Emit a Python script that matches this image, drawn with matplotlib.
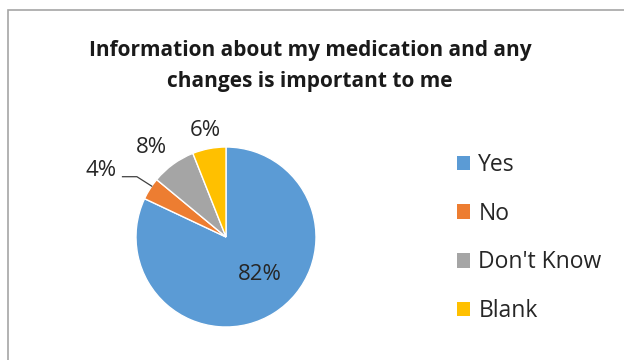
import numpy as np
import matplotlib
matplotlib.use("Agg")
import matplotlib.pyplot as plt
from matplotlib.patches import Rectangle, Patch

plt.rcParams["font.family"] = ["Open Sans", "DejaVu Sans"]

LABELS = ["Yes", "No", "Don't Know", "Blank"]
SHARES = [82, 4, 8, 6]
COLORS = ["#5B9BD5", "#ED7D31", "#A5A5A5", "#FFC000"]
TITLE = "Information about my medication and any\nchanges is important to me"

W, H = 624, 360
fig = plt.figure(figsize=(W / 100, H / 100), dpi=100)

# chart frame (open to the right and bottom)
fig.patches.append(Rectangle((8 / W, -0.1), 1.2, (H - 10) / H + 0.1,
                             transform=fig.transFigure, fill=False,
                             edgecolor="#A6A6A6", lw=1.2))

fig.text(310 / W, 1 - 66 / H, TITLE, ha="center", va="center",
         fontsize=15, fontweight="bold", linespacing=1.65, color="#1a1a1a")

# pie axes: 90 px per data unit, centre at (226, 237) px
R = 90
cx, cy = 226, H - 237
half = 1.6
ax = fig.add_axes([(cx - half * R) / W, (cy - half * R) / H,
                   2 * half * R / W, 2 * half * R / H])

wedges, _ = ax.pie(SHARES, colors=COLORS, startangle=90, counterclock=False,
                   wedgeprops=dict(edgecolor="white", linewidth=1.0))
ax.set_xlim(-half, half)
ax.set_ylim(-half, half)
ax.axis("off")

total = sum(SHARES)
cum = np.cumsum([0] + SHARES[:-1])
mids = [90 - (c + s / 2) / total * 360 for c, s in zip(cum, SHARES)]

# label distance and angular nudge for each slice
dist = [0.54, 1.59, 1.32, 1.23]
nudge = [12, 3.5, 3, 0]
for i, (m, s) in enumerate(zip(mids, SHARES)):
    a = np.radians(m + nudge[i])
    x, y = dist[i] * np.cos(a), dist[i] * np.sin(a)
    ax.text(x, y, f"{s}%", ha="center", va="center_baseline", fontsize=16,
            color="#262626")

# leader line for the small "No" slice
a = np.radians(mids[1] - 2)
x0, y0 = 1.0 * np.cos(a), 1.0 * np.sin(a)
ax.plot([x0, -0.99, -1.15], [y0, 0.67, 0.67], color="#404040", lw=0.9,
        clip_on=False)

handles = [Patch(facecolor=c, edgecolor="none") for c in COLORS]
fig.legend(handles, LABELS, loc="center left",
           bbox_to_anchor=(436 / W, 1 - 238 / H), frameon=False,
           fontsize=16.5, labelspacing=1.08, handlelength=0.6,
           handleheight=0.6, handletextpad=0.35, labelcolor="#262626")

fig.savefig("out.png", dpi=100)
